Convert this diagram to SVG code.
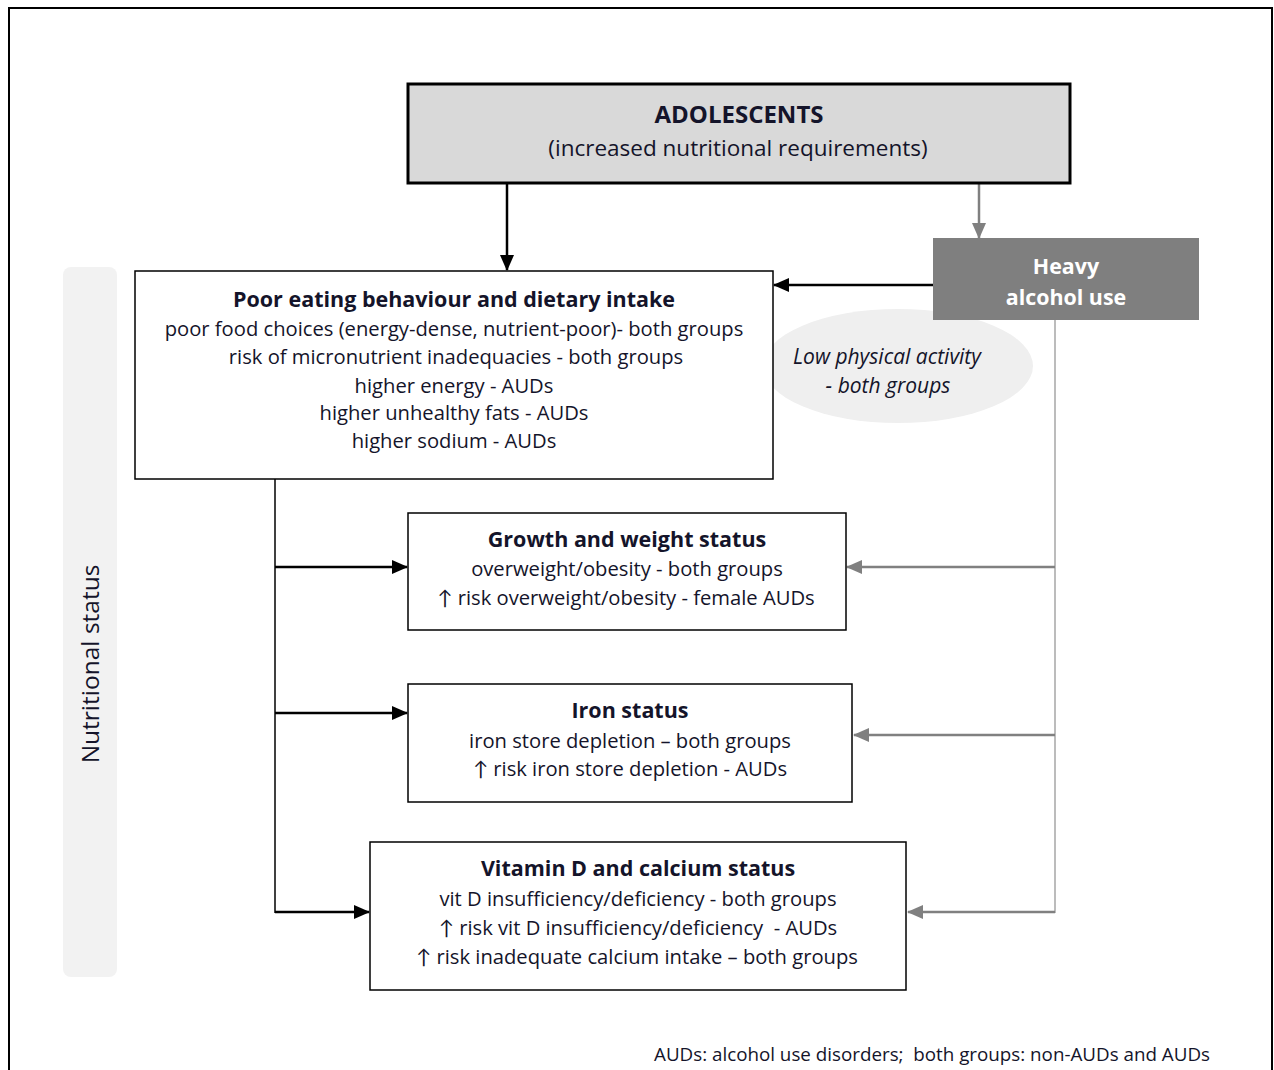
<svg xmlns="http://www.w3.org/2000/svg" width="1274" height="1070" viewBox="0 0 1274 1070">
<defs>
<style>
text{font-family:"Open Sans",Lato,"Liberation Sans",sans-serif;fill:#14142a;text-anchor:middle}
.t{font-weight:bold;font-size:21.5px}
.l{font-size:20.2px}
.it{font-size:21px;font-style:italic}
.box{fill:#fff;stroke:#000;stroke-width:1.5}
.blk{stroke:#000;stroke-width:2.5;fill:none}
.gry{stroke:#808080;stroke-width:2.5;fill:none}
</style>
<marker id="ab" markerWidth="16" markerHeight="14" refX="15" refY="7" orient="auto" markerUnits="userSpaceOnUse" viewBox="0 0 16 14"><path d="M0,0 L16,7 L0,14 z" fill="#000"/></marker>
<marker id="ag" markerWidth="16" markerHeight="14" refX="15" refY="7" orient="auto" markerUnits="userSpaceOnUse" viewBox="0 0 16 14"><path d="M0,0 L16,7 L0,14 z" fill="#808080"/></marker>
</defs>
<rect x="0" y="0" width="1274" height="1070" fill="#fff"/>
<rect x="9" y="8" width="1263" height="1080" fill="none" stroke="#000" stroke-width="2"/>

<g id="nutritional-status">
<rect x="63" y="267" width="54" height="710" rx="8" fill="#f2f2f2"/>
<text transform="translate(99,664) rotate(-90)" style="font-size:24.5px">Nutritional status</text>
</g>

<g id="low-activity">
<ellipse cx="898" cy="366" rx="135" ry="57" fill="#efefef"/>
<text class="it" x="887" y="364">Low physical activity</text>
<text class="it" x="888" y="393">- both groups</text>
</g>

<g id="connectors">
<line class="blk" x1="507" y1="184" x2="507" y2="270" marker-end="url(#ab)"/>
<line class="gry" x1="979" y1="184" x2="979" y2="238" marker-end="url(#ag)"/>
<line class="blk" x1="933" y1="285" x2="774" y2="285" marker-end="url(#ab)"/>
<line stroke="#000" stroke-width="1.5" x1="275" y1="479" x2="275" y2="913"/>
<line class="blk" x1="275" y1="567" x2="407" y2="567" marker-end="url(#ab)"/>
<line class="blk" x1="275" y1="713" x2="407" y2="713" marker-end="url(#ab)"/>
<line class="blk" x1="275" y1="912" x2="369" y2="912" marker-end="url(#ab)"/>
<line stroke="#a6a6a6" stroke-width="1.5" x1="1055" y1="320" x2="1055" y2="913"/>
<line class="gry" x1="1055" y1="567" x2="847" y2="567" marker-end="url(#ag)"/>
<line class="gry" x1="1055" y1="735" x2="854" y2="735" marker-end="url(#ag)"/>
<line class="gry" x1="1055" y1="912" x2="908" y2="912" marker-end="url(#ag)"/>
</g>

<g id="adolescents">
<rect x="408" y="84" width="662" height="99" fill="#d9d9d9" stroke="#000" stroke-width="3"/>
<text x="739" y="123" style="font-size:24px;font-weight:bold">ADOLESCENTS</text>
<text x="738" y="156" style="font-size:22.5px">(increased nutritional requirements)</text>
</g>

<g id="heavy-alcohol">
<rect x="933" y="238" width="266" height="82" fill="#7f7f7f"/>
<text x="1066" y="274" style="font-size:21.4px;font-weight:bold;fill:#fff">Heavy</text>
<text x="1066" y="305" style="font-size:21.4px;font-weight:bold;fill:#fff">alcohol use</text>
</g>

<g id="poor-eating">
<rect class="box" x="135" y="271" width="638" height="208"/>
<text class="t" x="454" y="307">Poor eating behaviour and dietary intake</text>
<text class="l" x="454" y="336">poor food choices (energy-dense, nutrient-poor)- both groups</text>
<text class="l" x="456" y="364">risk of micronutrient inadequacies - both groups</text>
<text class="l" x="454" y="393">higher energy - AUDs</text>
<text class="l" x="454" y="420">higher unhealthy fats - AUDs</text>
<text class="l" x="454" y="448">higher sodium - AUDs</text>
</g>

<g id="growth">
<rect class="box" x="408" y="513" width="438" height="117"/>
<text class="t" x="627" y="547">Growth and weight status</text>
<text class="l" x="627" y="576">overweight/obesity - both groups</text>
<text class="l" x="626" y="605">↑ risk overweight/obesity - female AUDs</text>
</g>

<g id="iron">
<rect class="box" x="408" y="684" width="444" height="118"/>
<text class="t" x="630" y="718">Iron status</text>
<text class="l" x="630" y="748">iron store depletion – both groups</text>
<text class="l" x="630" y="776">↑ risk iron store depletion - AUDs</text>
</g>

<g id="vitamin-d">
<rect class="box" x="370" y="842" width="536" height="148"/>
<text class="t" x="638" y="876">Vitamin D and calcium status</text>
<text class="l" x="638" y="906">vit D insufficiency/deficiency - both groups</text>
<text class="l" x="638" y="935" xml:space="preserve">↑ risk vit D insufficiency/deficiency  - AUDs</text>
<text class="l" x="637" y="964">↑ risk inadequate calcium intake – both groups</text>
</g>

<text x="654" y="1061" style="font-size:18.8px;text-anchor:start" xml:space="preserve">AUDs: alcohol use disorders;  both groups: non-AUDs and AUDs</text>
</svg>
